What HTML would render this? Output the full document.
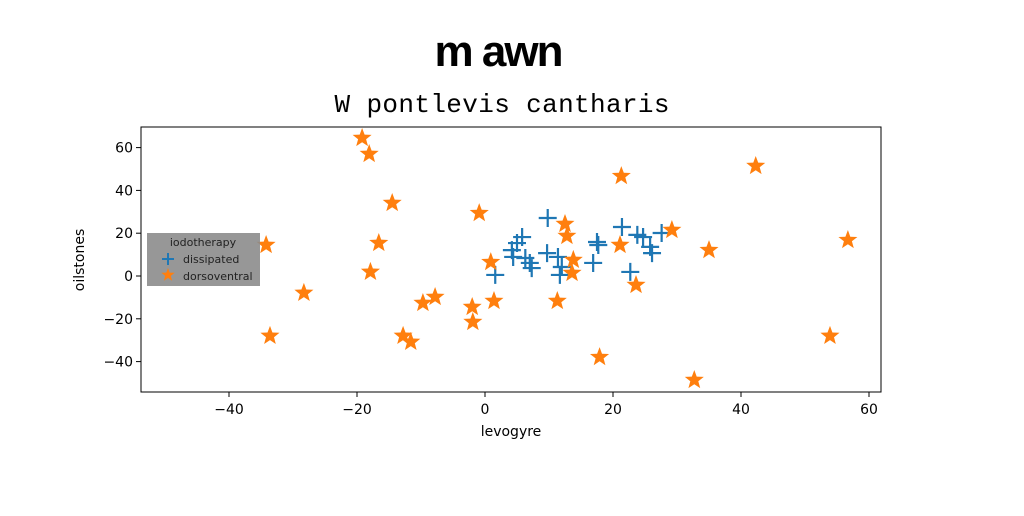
<!DOCTYPE html>
<html><head><meta charset="utf-8"><style>
body{margin:0;background:#fff;width:1024px;height:512px;overflow:hidden;font-family:"DejaVu Sans","Liberation Sans",sans-serif}
</style></head><body>
<svg id="chart" width="1024" height="512">
<text x="498" y="66" text-anchor="middle" font-family="Liberation Sans" font-weight="bold" font-size="44" style="letter-spacing:-2px">m awn</text>
<text x="502" y="112" text-anchor="middle" font-family="Liberation Mono" font-size="26" textLength="335">W pontlevis cantharis</text>
<g id="axes"></g>
<g id="marks"></g>
<rect x="141" y="127" width="740" height="265" fill="none" stroke="#000" stroke-width="1"/>
<text x="511" y="436" text-anchor="middle" font-size="14">levogyre</text>
<text transform="translate(84,260) rotate(-90)" text-anchor="middle" font-size="14">oilstones</text>
<g>
<rect x="147" y="233" width="113" height="53" fill="#8c8c8c" opacity="0.9"/>
<text x="203" y="246" text-anchor="middle" font-size="11" fill="#222">iodotherapy</text>
<path d="M162,259h12M168,253v12" stroke="#1f77b4" stroke-width="2"/>
<text x="183" y="263" font-size="11" fill="#222">dissipated</text>
<text x="183" y="280" font-size="11" fill="#222">dorsoventral</text>
<g id="legstar"></g>
</g>
</svg>
<script>
const xTicks=[-40,-20,0,20,40,60];
const yTicks=[-40,-20,0,20,40,60];
const crossX=[9.8,5.8,5.0,4.2,4.4,6.3,7.0,7.3,1.6,9.7,11.4,12.0,11.7,16.9,17.5,17.7,21.4,22.7,23.8,24.7,25.8,26.1,27.6];
const crossY=[27.1,18.2,15.4,12.1,8.9,8.4,6.1,3.7,0.5,10.7,8.9,4.2,0.5,6.1,15.9,14.5,22.9,1.9,19.2,18.2,13.6,10.7,20.1];
const starX=[-19.2,-18.1,-14.5,-16.6,-17.9,-34.2,-33.6,-28.3,-12.8,-11.6,-9.7,-7.8,-2.0,-1.9,-0.9,0.9,1.4,11.3,12.5,12.8,13.8,13.6,17.9,21.3,21.1,23.6,29.2,32.7,35.0,42.3,53.9,56.7];
const starY=[64.5,57.0,34.1,15.4,1.9,14.5,-28.0,-7.9,-28.0,-30.8,-12.6,-9.8,-14.5,-21.5,29.4,6.5,-11.7,-11.7,24.3,18.7,7.5,1.4,-37.9,46.7,14.5,-4.2,21.5,-48.6,12.1,51.4,-28.0,16.8];
const L=141,R=881,T=127,B=392;
const sx=v=>485+v*6.4, sy=v=>276-v*2.14;
const NS='http://www.w3.org/2000/svg';
const ax=document.getElementById('axes'), mk=document.getElementById('marks');
function el(t,a,p){const e=document.createElementNS(NS,t);for(const k in a)e.setAttribute(k,a[k]);p.appendChild(e);return e;}
xTicks.forEach(v=>{const x=sx(v);
 const l=el('line',{x1:x,x2:x,y1:B,y2:B+5,stroke:'#000'},ax);
 
 
 const t=el('text',{x:x,y:B+22,'text-anchor':'middle','font-size':14},ax);t.textContent=v<0?'\u2212'+(-v):v;
 
 });
yTicks.forEach(v=>{const y=sy(v);
 const l=el('line',{x1:L-5,x2:L,y1:y,y2:y,stroke:'#000'},ax);
 
 
 const t=el('text',{x:L-8,y:y+5,'text-anchor':'end','font-size':14},ax);t.textContent=v<0?'\u2212'+(-v):v;
 
 });
function star(cx,cy,r,p){let d='';for(let i=0;i<10;i++){const rr=i%2?r*0.42:r,a=-Math.PI/2+i*Math.PI/5;d+=(i?'L':'M')+(cx+rr*Math.cos(a)).toFixed(1)+','+(cy+rr*Math.sin(a)).toFixed(1);}return el('path',{d:d+'Z',fill:'#ff7f0e'},p);}
crossX.forEach((v,i)=>{const x=sx(v),y=sy(crossY[i]);
 const c=el('path',{d:`M${x-9},${y}h18M${x},${y-9}v18`,stroke:'#1f77b4','stroke-width':2.2},mk);
 
 });
starX.forEach((v,i)=>{const s=star(sx(v),sy(starY[i]),10,mk);
 
 });
const ls=star(168,275,7,document.getElementById('legstar'));


</script>
</body></html>
